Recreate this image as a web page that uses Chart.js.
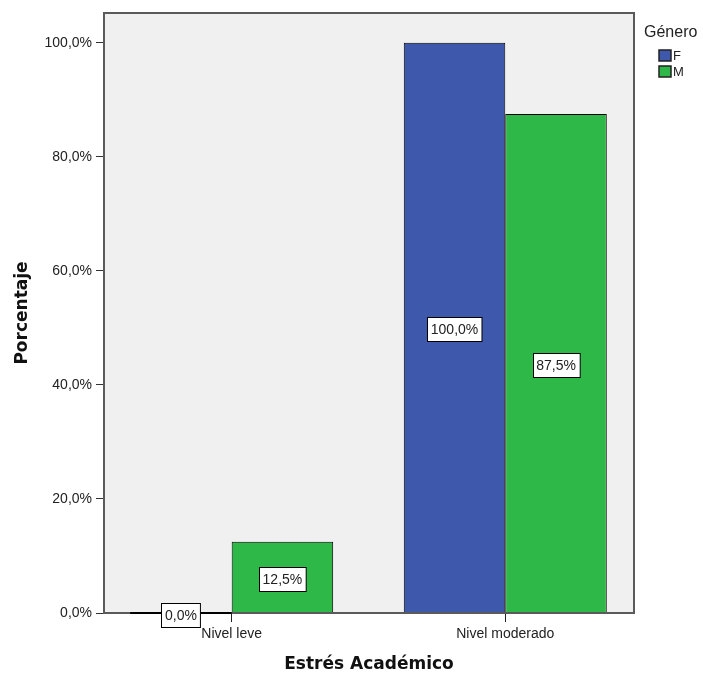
<!DOCTYPE html>
<html>
<head>
<meta charset="utf-8">
<script src="https://cdn.jsdelivr.net/npm/chart.js@4.4.1/dist/chart.umd.min.js"></script>
<style>
  html, body { margin: 0; padding: 0; background: #fff; }
  #wrap { width: 703px; height: 673px; }
</style>
</head>
<body>
<div id="wrap"><canvas id="chart" width="703" height="673"></canvas></div>
<script>
// ---- data ----
const categories = ["Nivel leve", "Nivel moderado"];
const generoLabels = ["F", "M"];
const valoresF = [0, 100];
const valoresM = [12.5, 87.5];
const yTicks = [0, 20, 40, 60, 80, 100];
const colores = ["#3e58ac", "#2eb848"];

const pct = v => v.toFixed(1).replace(".", ",") + "%";
const toPoints = arr => arr.map((v, i) => ({ x: i, y: v }));

// ---- gray plot box, zero bars, value boxes ----
const plotBox = {
  id: "plotBox",
  beforeDatasetsDraw(chart) {
    const { ctx, chartArea: a } = chart;
    ctx.save();
    ctx.fillStyle = "#f0f0f0";
    ctx.fillRect(a.left, a.top, a.right - a.left, a.bottom - a.top);
    ctx.restore();
  },
  afterDatasetsDraw(chart) {
    const { ctx, chartArea: a } = chart;
    ctx.save();
    ctx.strokeStyle = "#5a5a5a";
    ctx.lineWidth = 2;
    ctx.strokeRect(a.left, a.top, a.right - a.left, a.bottom - a.top);

    // bars at 0 are shown as a flat black line
    chart.data.datasets.forEach((ds, di) => {
      chart.getDatasetMeta(di).data.forEach((bar, i) => {
        if (ds.data[i].y !== 0) return;
        ctx.strokeStyle = "#000";
        ctx.lineWidth = 2;
        ctx.beginPath();
        ctx.moveTo(bar.x - bar.width / 2, bar.base);
        ctx.lineTo(bar.x + bar.width / 2, bar.base);
        ctx.stroke();
      });
    });

    // value labels in white boxes
    ctx.font = "14px 'Liberation Sans', Arial, sans-serif";
    ctx.textAlign = "center";
    ctx.textBaseline = "middle";
    chart.data.datasets.forEach((ds, di) => {
      chart.getDatasetMeta(di).data.forEach((bar, i) => {
        const txt = pct(ds.data[i].y);
        const w = ctx.measureText(txt).width + 7;
        const h = 24;
        const cx = bar.x;
        const cy = (bar.y + bar.base) / 2 + 1.5;
        const x0 = Math.round(cx - w / 2) + 0.5;
        const y0 = Math.round(cy - h / 2) + 0.5;
        ctx.fillStyle = "#fff";
        ctx.fillRect(x0, y0, w, h);
        ctx.strokeStyle = "#000";
        ctx.lineWidth = 1;
        ctx.strokeRect(x0, y0, w, h);
        ctx.fillStyle = "#222";
        ctx.fillText(txt, cx, y0 + h / 2 + 0.5);
      });
    });
    ctx.restore();
  },
  afterDraw(chart) {
    // legend on the right
    const { ctx } = chart;
    ctx.save();
    ctx.fillStyle = "#222";
    ctx.textAlign = "left";
    ctx.textBaseline = "middle";
    ctx.font = "16px 'Liberation Sans', Arial, sans-serif";
    ctx.fillText("Género", 644, 33);
    ctx.font = "13px 'Liberation Sans', Arial, sans-serif";
    chart.data.datasets.forEach((ds, di) => {
      const y = 50 + di * 16;
      ctx.fillStyle = ds.backgroundColor;
      ctx.fillRect(659, y, 12, 11);
      ctx.strokeStyle = "#222";
      ctx.lineWidth = 1.5;
      ctx.strokeRect(659, y, 12, 11);
      ctx.fillStyle = "#222";
      ctx.fillText(ds.label, 673, y + 6);
    });
    ctx.restore();
  }
};

const ctx = document.getElementById("chart").getContext("2d");
new Chart(ctx, {
  type: "bar",
  data: {
    datasets: [
      {
        label: generoLabels[0],
        data: toPoints(valoresF),
        backgroundColor: colores[0],
        borderColor: "#000",
        borderWidth: 1
      },
      {
        label: generoLabels[1],
        data: toPoints(valoresM),
        backgroundColor: colores[1],
        borderColor: "#000",
        borderWidth: 1
      }
    ]
  },
  options: {
    responsive: false,
    animation: false,
    devicePixelRatio: 1,
    layout: { padding: { top: 13, right: 69, left: 0, bottom: 0 } },
    datasets: {
      bar: { categoryPercentage: 0.742, barPercentage: 1 }
    },
    plugins: {
      legend: { display: false },
      tooltip: { enabled: false }
    },
    scales: {
      x: {
        type: "linear",
        offset: false,
        min: -0.4667,
        max: 1.4705,
        afterBuildTicks: s => { s.ticks = categories.map((c, i) => ({ value: i })); },
        afterFit: s => { s.height = 60; },
        border: { display: false },
        grid: { offset: false, drawOnChartArea: false, tickLength: 9, color: "#222", tickColor: "#222" },
        ticks: {
          callback: v => categories[v],
          padding: 4,
          color: "#222",
          font: { family: "'Liberation Sans', Arial, sans-serif", size: 14 }
        },
        title: {
          display: true,
          text: "Estrés Académico",
          color: "#111",
          padding: { top: 0, bottom: -2 },
          font: { family: "'DejaVu Sans', sans-serif", size: 17, weight: "bold" }
        }
      },
      y: {
        min: 0,
        max: 105.2,
        afterBuildTicks: s => { s.ticks = yTicks.map(v => ({ value: v })); },
        afterFit: s => { s.width = 104; },
        border: { display: false },
        grid: { drawOnChartArea: false, tickLength: 8, color: "#333", tickColor: "#333" },
        ticks: {
          callback: v => pct(v),
          padding: 4,
          color: "#222",
          font: { family: "'Liberation Sans', Arial, sans-serif", size: 14 }
        },
        title: {
          display: true,
          text: "Porcentaje",
          color: "#111",
          padding: { top: 12, bottom: 0 },
          font: { family: "'DejaVu Sans', sans-serif", size: 17, weight: "bold" }
        }
      }
    }
  },
  plugins: [plotBox]
});
</script>
</body>
</html>
